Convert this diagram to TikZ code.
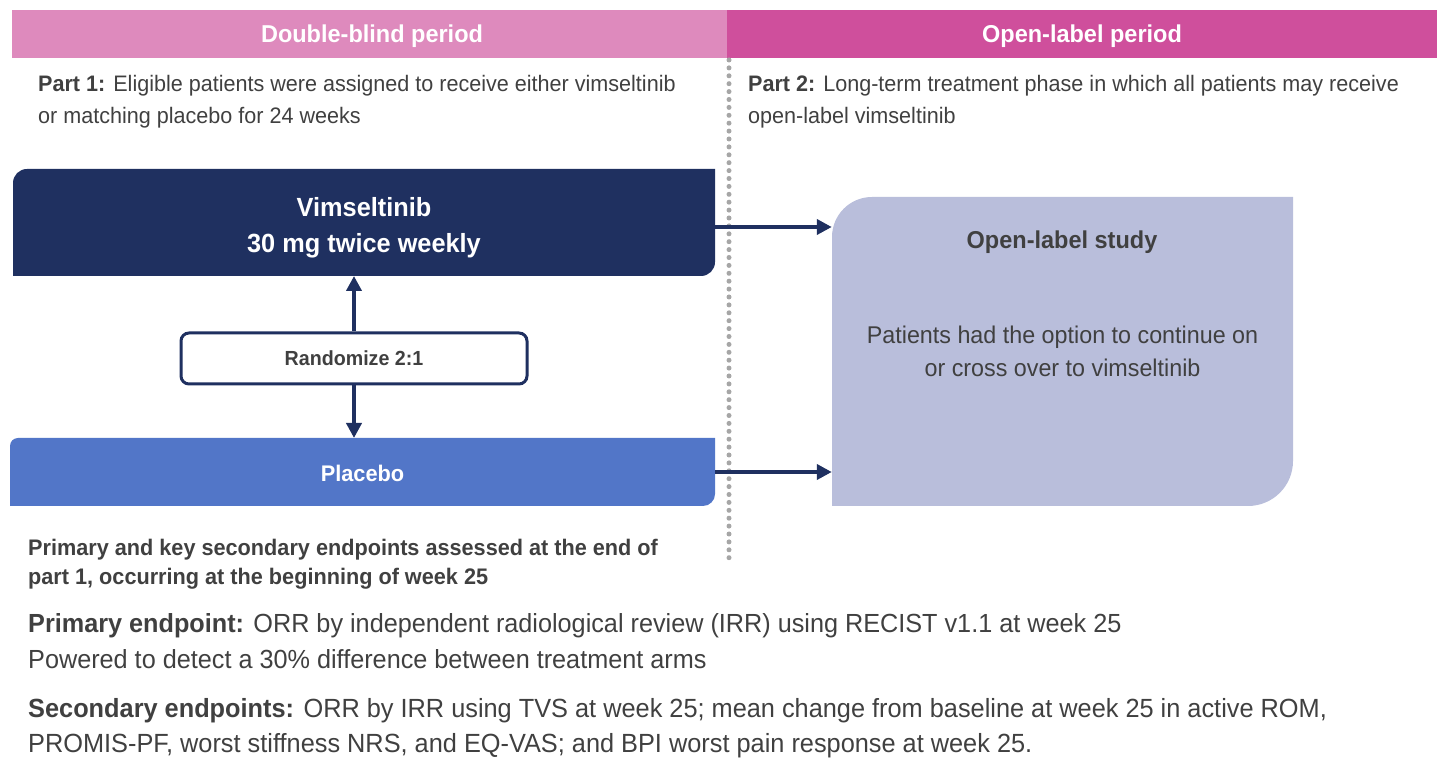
\documentclass[tikz,border=0pt]{standalone}
\usepackage{fontspec}
\setmainfont[FakeStretch=0.963]{Liberation Sans}
\usetikzlibrary{arrows.meta}
\definecolor{hdrL}{HTML}{DE8ABD}
\definecolor{hdrR}{HTML}{CF4F9C}
\definecolor{navy}{HTML}{1F3060}
\definecolor{plcblue}{HTML}{5276C8}
\definecolor{obox}{HTML}{B9BEDB}
\definecolor{tgray}{HTML}{404040}
\definecolor{dotgray}{HTML}{A6A6A6}
\begin{document}
\begin{tikzpicture}[x=1pt,y=1pt,
  txt/.style={text=tgray, inner sep=0pt},
  hdr/.style={text=white, inner sep=0pt, font=\bfseries\fontsize{24.4}{28}\selectfont},
  arr/.style={draw=navy, line width=4pt, -{Triangle[length=15pt,width=15pt]}},
  dots/.style={draw=dotgray, line width=5pt, line cap=round, dash pattern=on 0pt off 7.9pt},
]
\useasboundingbox (0,0) rectangle (1442,760);
% headers
\fill[hdrL] (12,702) rectangle (727,750);
\fill[hdrR] (727,702) rectangle (1437,750);
\node[hdr] (h1) at (372,723.5) {Double-blind period};
\node[hdr] (h2) at (1082,723.5) {Open-label period};
\node[txt, anchor=west, align=left, font=\fontsize{22.4}{32}\selectfont] (p1) at (38,658)
  {\textbf{Part 1:} Eligible patients were assigned to receive either vimseltinib\\or matching placebo for 24 weeks};
\node[txt, anchor=west, align=left, font=\fontsize{22.4}{32}\selectfont] (p2) at (748,658)
  {\textbf{Part 2:} Long-term treatment phase in which all patients may receive\\open-label vimseltinib};
% divider
\draw[dots] (729,700) -- (729,195);
% fills
\fill[navy] (13,484) -- (13,577) arc[start angle=180,end angle=90,radius=14] -- (715,591) -- (715,498) arc[start angle=0,end angle=-90,radius=14] -- cycle;
\fill[plcblue] (10,254) -- (10,314) arc[start angle=180,end angle=90,radius=8] -- (715,322) -- (715,266) arc[start angle=0,end angle=-90,radius=12] -- cycle;
\fill[obox] (832,254) -- (832,523) arc[start angle=180,end angle=90,radius=40] -- (1293,563) -- (1293,299) arc[start angle=0,end angle=-90,radius=45] -- cycle;
% nodes
\node[txt, text=white, align=center, minimum width=702, minimum height=107, font=\bfseries\fontsize{26.3}{36}\selectfont] (vim) at (364,532.5) {Vimseltinib\\30 mg twice weekly};
\node[txt, text=white, minimum width=705, minimum height=68, font=\bfseries\fontsize{22.6}{26}\selectfont] (plc) at (362.5,287) {Placebo};
\node[draw=navy, line width=3pt, rounded corners=8pt, fill=white, text=tgray, inner sep=0pt, minimum width=346, minimum height=51, font=\bfseries\fontsize{20.4}{24}\selectfont] (rand) at (354,401.5) {\raisebox{-2pt}{Randomize 2:1}};
\node[txt, align=center, minimum width=461, minimum height=309, font=\fontsize{24.2}{33}\selectfont] (open) at (1062.5,408.5) {Patients had the option to continue on\\or cross over to vimseltinib};
\node[txt, font=\bfseries\fontsize{24.4}{28}\selectfont] (otitle) at (1062,518) {Open-label study};
% arrows
\draw[arr] (rand.north) -- (rand.north |- 0,484);
\draw[arr] (rand.south) -- (rand.south |- 0,322);
\draw[arr] (715,533) -- (open.west |- 0,533);
\draw[arr] (715,288) -- (open.west |- 0,288);
% bottom texts
\node[txt, anchor=west, align=left, font=\bfseries\fontsize{22.5}{29}\selectfont] (ep) at (28,195.5)
  {Primary and key secondary endpoints assessed at the end of\\part 1, occurring at the beginning of week 25};
\node[txt, anchor=west, align=left, font=\fontsize{26.2}{36}\selectfont] (pe) at (28,119)
  {\textbf{Primary endpoint:} ORR by independent radiological review (IRR) using RECIST v1.1 at week 25\\Powered to detect a 30\% difference between treatment arms};
\node[txt, anchor=west, align=left, font=\fontsize{26.3}{35}\selectfont] (se) at (28,31.5)
  {\textbf{Secondary endpoints:} ORR by IRR using TVS at week 25; mean change from baseline at week 25 in active ROM,\\PROMIS-PF, worst stiffness NRS, and EQ-VAS; and BPI worst pain response at week 25.};
\end{tikzpicture}
\end{document}
